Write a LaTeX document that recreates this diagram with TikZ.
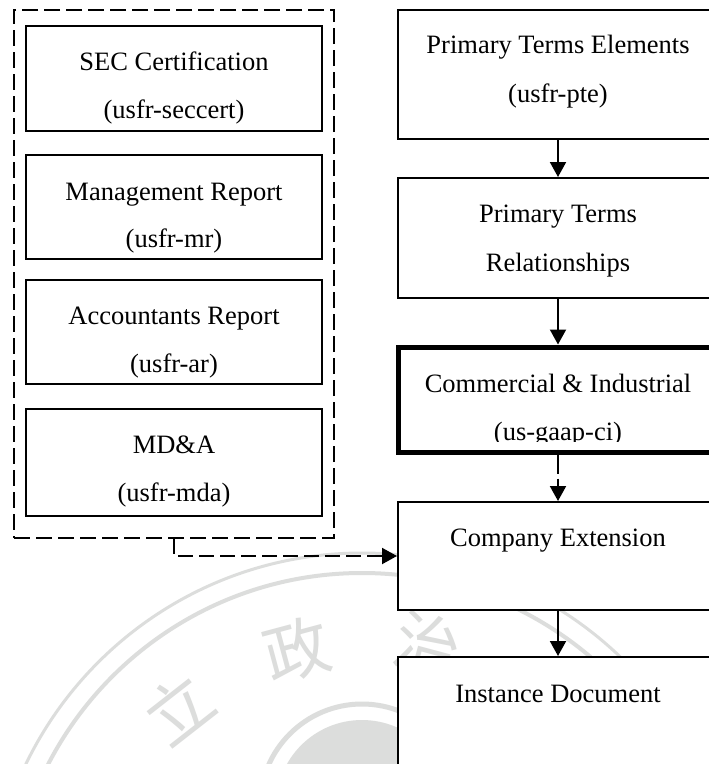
\documentclass[tikz,border=0pt]{standalone}
\usepackage{fontspec}
\setmainfont{Liberation Serif}
\newfontfamily\cjkfont{Noto Sans CJK TC}
\usetikzlibrary{arrows.meta}
\definecolor{seal}{HTML}{DCDDDC}
\tikzset{
  x=1pt,y=-1pt,
  boxnode/.style={draw=black,fill=white,line width=2pt,inner sep=0pt,minimum width=#1},
  leftbox/.style={boxnode=296pt},
  rightbox/.style={boxnode=320pt},
  thickbox/.style={boxnode=320pt,line width=5pt},
  txt/.style={font=\fontsize{26.5}{26.5}\selectfont,inner sep=0pt,text=black,anchor=base},
  dashline/.style={line width=2pt,dash pattern=on 16pt off 6pt},
  flow/.style={line width=2pt,-{Triangle[length=15pt,width=16pt]}},
  sealline/.style={draw=seal,fill=none},
  sealchar/.style={text=seal,inner sep=0pt,font=\cjkfont\fontsize{66}{66}\selectfont},
}
\begin{document}
\begin{tikzpicture}
\path[use as bounding box,fill=white] (0,0) rectangle (709,764);
\clip (0,0) rectangle (709,764);
% watermark
\draw[sealline,line width=3pt] (362,926) circle (373);
\draw[sealline,line width=4pt] (362,926) circle (353);
\draw[sealline,line width=5pt] (362,806) circle (102);
\fill[seal] (362,806) circle (86);
\node[sealchar,rotate=38] (c1) at (178,708) {立};
\node[sealchar,rotate=15] (c2) at (297,650) {政};
\node[sealchar,rotate=-15] (c3) at (428,645) {治};
% left group
\node[draw=black,dashline,inner sep=0pt,minimum width=320pt,minimum height=528pt] (group) at (174,274) {};
\node[leftbox,minimum height=105pt] (b1) at (174,78.5) {};
\node[leftbox,minimum height=104pt] (b2) at (174,207) {};
\node[leftbox,minimum height=104pt] (b3) at (174,332) {};
\node[leftbox,minimum height=107pt] (b4) at (174,462.5) {};
\node[txt] (t1a) at (174,70) {SEC Certification};
\node[txt] (t1b) at (174,118) {(usfr-seccert)};
\node[txt] (t2a) at (174,200) {Management Report};
\node[txt] (t2b) at (174,247) {(usfr-mr)};
\node[txt] (t3a) at (174,324) {Accountants Report};
\node[txt] (t3b) at (174,372) {(usfr-ar)};
\node[txt] (t4a) at (174,453) {MD\&A};
\node[txt] (t4b) at (174,501) {(usfr-mda)};
% right column
\node[rightbox,minimum height=129pt] (r1) at (558,74.5) {};
\node[rightbox,minimum height=120pt] (r2) at (558,238) {};
\node[thickbox,minimum height=105pt] (r3) at (558,399.5) {};
\node[rightbox,minimum height=108pt] (r4) at (558,556) {};
\node[rightbox,minimum height=140pt] (r5) at (558,727) {};
\node[txt] (s1a) at (558,53) {Primary Terms Elements};
\node[txt] (s1b) at (558,102) {(usfr-pte)};
\node[txt] (s2a) at (558,222) {Primary Terms};
\node[txt] (s2b) at (558,271) {Relationships};
\node[txt] (s3a) at (558,392) {Commercial \& Industrial};
\begin{scope}
\clip (402,415) rectangle (709,441.5);
\node[txt] (s3b) at (558,440) {(us-gaap-ci)};
\end{scope}
\node[txt] (s4a) at (558,546) {Company Extension};
\node[txt] (s5a) at (558,702) {Instance Document};
% connectors
\draw[flow] (r1) -- (r2);
\draw[flow] (r2) -- (r3);
\draw[flow,dash pattern=on 19pt off 5pt] (r3) -- (r4);
\draw[flow] (r4) -- (r5);
\draw[flow,dash pattern=on 15pt off 6pt] (group.south) |- (r4.west);
\end{tikzpicture}
\end{document}
